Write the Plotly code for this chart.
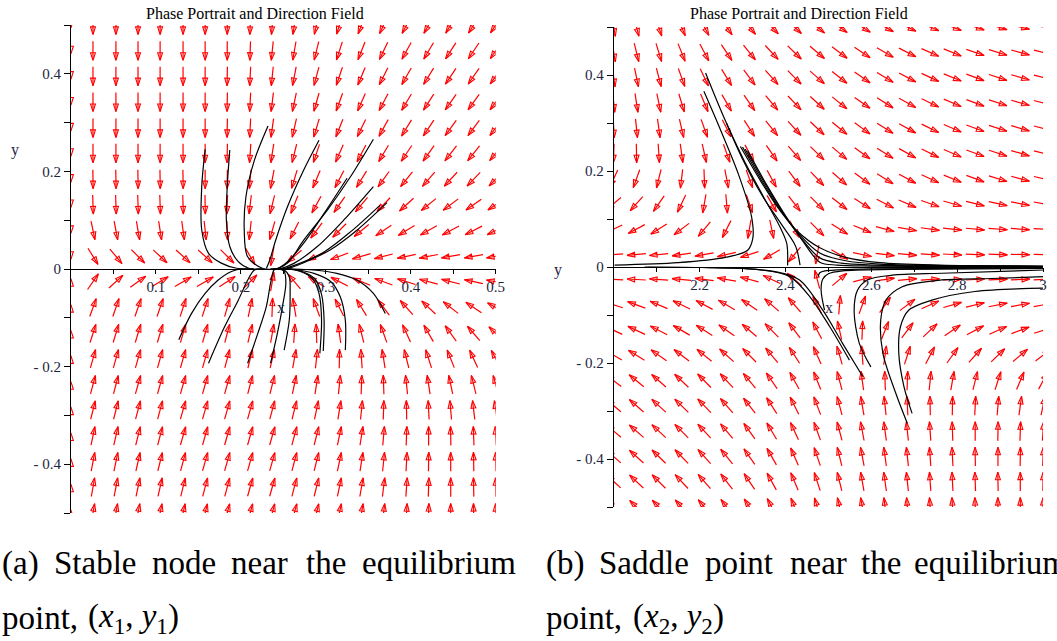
import math
import plotly.graph_objects as go

# ------------------------------------------------------------------
# DATA
# ------------------------------------------------------------------
# Panel (a): direction-field sample grid and arrow directions (degrees, on screen)
a_grid_x = [0.0, 0.026, 0.053, 0.079, 0.105, 0.132, 0.158, 0.184, 0.211, 0.237,
            0.263, 0.289, 0.316, 0.342, 0.368, 0.395, 0.421, 0.447, 0.474, 0.5]
a_grid_y = [0.5, 0.447, 0.395, 0.342, 0.289, 0.237, 0.184, 0.132, 0.079, 0.026,
            -0.026, -0.079, -0.132, -0.184, -0.237, -0.289, -0.342, -0.395, -0.447, -0.5]
a_zero_field_x = [0.0]   # field vanishes on x = 0
a_angles = [
    [-90,-90,-90,-90,-90,-90,-90,-90,-92,-95,-99,-103,-107,-111,-115,-118,-120,-122,-123,-124],
    [-90,-90,-90,-90,-90,-90,-90,-90,-92,-96,-100,-104,-108,-112,-116,-119,-121,-123,-124,-125],
    [-90,-90,-90,-90,-90,-90,-90,-91,-93,-96,-101,-105,-109,-113,-117,-120,-122,-124,-125,-126],
    [-90,-90,-90,-90,-90,-90,-90,-91,-93,-97,-102,-106,-110,-114,-118,-121,-123,-125,-126,-127],
    [-90,-90,-90,-90,-90,-90,-90,-91,-93,-98,-103,-107,-112,-116,-119,-122,-124,-126,-127,-128],
    [-90,-90,-90,-90,-90,-90,-90,-91,-94,-99,-104,-109,-114,-118,-121,-124,-126,-128,-129,-130],
    [-90,-89,-89,-89,-89,-89,-90,-91,-95,-101,-107,-113,-118,-122,-126,-129,-131,-133,-134,-135],
    [-90,-88,-88,-88,-88,-88,-89,-92,-97,-104,-112,-119,-125,-130,-134,-138,-141,-143,-145,-146],
    [-90,-78,-79,-80,-81,-82,-84,-88,-96,-106,-117,-127,-135,-141,-146,-149,-151,-152,-153,-154],
    [-90,-58,-50,-45,-43,-42,-42,-45,-60,-100,-140,-155,-160,-164,-166,-168,-169,-170,-170,-170],
    [90,55,42,35,31,30,30,33,45,80,130,148,153,158,160,163,165,166,168,170],
    [90,70,71,71,71,72,72,74,78,88,100,110,117,122,127,132,137,142,146,150],
    [90,72,73,73,73,74,74,75,76,80,86,92,98,104,110,115,120,126,131,136],
    [90,74,74,74,74,74,74,75,76,77,80,84,89,94,99,104,108,112,115,118],
    [90,75,75,74,74,74,74,74,75,76,78,81,84,88,92,96,99,102,104,106],
    [90,76,76,75,75,74,74,74,74,75,76,78,81,84,88,91,93,95,97,98],
    [90,78,77,76,75,74,74,74,74,74,75,76,78,81,85,88,90,91,92,93],
    [90,79,78,77,76,75,74,74,74,74,75,76,78,81,84,87,89,90,91,91],
    [90,80,79,78,77,76,75,75,74,74,75,76,78,80,83,86,88,90,91,91],
    [90,80,80,79,78,77,76,75,75,75,75,76,78,80,83,86,88,90,91,91],
]

# Panel (a): solution curves
a_t1_x = [0.158, 0.154, 0.154, 0.162, 0.177, 0.195, 0.215]
a_t1_y = [0.245, 0.169, 0.080, 0.032, 0.012, 0.0015, 0.0]
a_t2_x = [0.187, 0.184, 0.183, 0.187, 0.197, 0.210, 0.225]
a_t2_y = [0.244, 0.169, 0.100, 0.046, 0.015, 0.001, 0.0]
a_t3_x = [0.232, 0.216, 0.206, 0.204, 0.208, 0.226, 0.240]
a_t3_y = [0.293, 0.223, 0.148, 0.080, 0.025, 0.001, 0.0]
a_t4_x = [0.292, 0.274, 0.255, 0.241, 0.234, 0.230]
a_t4_y = [0.264, 0.203, 0.128, 0.059, 0.018, 0.001]
a_t5_x = [0.325, 0.298, 0.274, 0.255, 0.243, 0.235]
a_t5_y = [0.186, 0.114, 0.053, 0.015, 0.001, 0.0]
a_t6_x = [0.356, 0.329, 0.302, 0.274, 0.255, 0.243, 0.235]
a_t6_y = [0.266, 0.189, 0.121, 0.059, 0.012, 0.001, 0.0]
a_t7_x = [0.356, 0.321, 0.290, 0.263, 0.247, 0.238]
a_t7_y = [0.169, 0.100, 0.046, 0.012, 0.001, 0.0]
a_t8_x = [0.364, 0.329, 0.298, 0.267, 0.251, 0.240]
a_t8_y = [0.131, 0.076, 0.035, 0.010, 0.001, 0.0]
a_t9_x = [0.372, 0.337, 0.305, 0.274, 0.255, 0.242]
a_t9_y = [0.136, 0.080, 0.039, 0.013, 0.001, 0.0]
a_b1_x = [0.127, 0.142, 0.158, 0.173, 0.189, 0.200, 0.215]
a_b1_y = [-0.145, -0.091, -0.050, -0.023, -0.005, 0.0, 0.0]
a_b2_x = [0.162, 0.181, 0.197, 0.208, 0.216, 0.225]
a_b2_y = [-0.193, -0.118, -0.064, -0.023, -0.002, 0.0]
a_b3_x = [0.208, 0.220, 0.230, 0.235, 0.239, 0.242]
a_b3_y = [-0.193, -0.132, -0.077, -0.029, -0.002, 0.0]
a_b4_x = [0.235, 0.243, 0.249, 0.253, 0.251, 0.245]
a_b4_y = [-0.193, -0.132, -0.077, -0.029, -0.005, 0.0]
a_b5_x = [0.251, 0.257, 0.258, 0.257, 0.251, 0.243]
a_b5_y = [-0.166, -0.105, -0.050, -0.016, -0.002, 0.0]
a_b6_x = [0.293, 0.295, 0.292, 0.284, 0.270, 0.255, 0.245]
a_b6_y = [-0.173, -0.105, -0.050, -0.019, -0.005, 0.0, 0.0]
a_b7_x = [0.297, 0.298, 0.295, 0.287, 0.272, 0.256]
a_b7_y = [-0.168, -0.105, -0.052, -0.020, -0.005, 0.0]
a_b8_x = [0.323, 0.323, 0.317, 0.306, 0.286, 0.263, 0.248]
a_b8_y = [-0.166, -0.105, -0.057, -0.026, -0.009, -0.001, 0.0]
a_b9_x = [0.370, 0.356, 0.337, 0.313, 0.286, 0.263, 0.248]
a_b9_y = [-0.091, -0.050, -0.023, -0.009, -0.002, 0.0, 0.0]

# Panel (b): direction-field sample grid and arrow directions (degrees, on screen)
b_grid_x = [2.0, 2.053, 2.105, 2.158, 2.211, 2.263, 2.316, 2.368, 2.421, 2.474,
            2.526, 2.579, 2.632, 2.684, 2.737, 2.789, 2.842, 2.895, 2.947, 3.0]
b_grid_y = a_grid_y
b_zero_field_x = []
b_angles = [
    [-80,-75,-72,-67,-61,-55,-50,-46,-43,-39,-36,-33,-29,-26,-23,-21,-18,-16,-14,-13],
    [-80,-76,-73,-68,-62,-56,-51,-47,-44,-40,-37,-34,-30,-27,-24,-22,-19,-17,-15,-14],
    [-82,-78,-75,-70,-64,-58,-53,-48,-45,-41,-38,-35,-31,-28,-25,-22,-20,-18,-16,-14],
    [-84,-81,-78,-73,-67,-60,-55,-50,-46,-42,-39,-35,-32,-29,-26,-23,-20,-18,-16,-14],
    [-87,-84,-82,-77,-70,-63,-57,-51,-47,-43,-39,-36,-32,-29,-26,-23,-20,-18,-16,-14],
    [-92,-89,-86,-82,-77,-70,-62,-55,-49,-44,-40,-36,-32,-29,-26,-23,-20,-18,-16,-14],
    [-115,-110,-104,-97,-88,-79,-70,-61,-53,-46,-41,-36,-32,-28,-25,-22,-20,-17,-15,-13],
    [-140,-132,-125,-116,-100,-85,-71,-60,-52,-45,-38,-32,-27,-23,-19,-16,-14,-12,-11,-10],
    [-155,-152,-148,-143,-130,-117,-100,-78,-60,-45,-32,-22,-15,-10,-8,-6,-5,-4,-4,-3],
    [-176,-175,-174,-172,-170,-167,-162,-150,-130,-100,-30,-12,-7,-5,-4,-3,-2,-2,-1,-1],
    [178,177,176,175,173,170,165,155,140,105,40,15,8,5,4,3,3,2,2,2],
    [163,160,157,154,152,150,146,139,131,117,85,70,55,37,24,16,13,11,10,10],
    [155,155,153,150,148,145,140,135,127,118,103,88,68,53,43,34,28,24,20,18],
    [150,148,145,143,141,138,135,130,123,114,106,94,82,72,62,54,48,44,40,37],
    [143,141,139,137,135,133,130,125,119,112,105,98,92,88,84,80,76,72,67,62],
    [140,139,138,136,134,131,128,123,117,111,105,100,96,93,91,89,87,85,82,78],
    [140,139,137,135,133,130,126,121,115,110,105,101,98,96,94,92,90,89,88,86],
    [139,138,136,134,132,129,125,120,114,109,104,101,98,96,94,93,91,90,89,88],
    [138,137,135,133,131,128,124,119,113,108,104,100,98,96,94,93,92,91,90,89],
    [137,136,134,132,130,127,123,118,112,107,103,100,97,95,94,93,92,91,90,89],
]

# Panel (b): solution curves
b_u1_x = [2.210, 2.249, 2.291, 2.321, 2.324, 2.312, 2.260, 2.150, 2.002]
b_u1_y = [0.366, 0.285, 0.192, 0.105, 0.060, 0.035, 0.020, 0.009, 0.004]
b_u2_x = [2.214, 2.256, 2.303, 2.349, 2.387, 2.403, 2.405]
b_u2_y = [0.404, 0.313, 0.223, 0.146, 0.084, 0.049, 0.003]
b_u3_x = [2.263, 2.300, 2.345, 2.390, 2.420, 2.427, 2.434]
b_u3_y = [0.299, 0.225, 0.150, 0.090, 0.050, 0.035, 0.004]
b_u4_x = [2.295, 2.341, 2.379, 2.426, 2.480, 2.540, 2.620, 2.760, 3.0]
b_u4_y = [0.251, 0.181, 0.128, 0.076, 0.040, 0.020, 0.009, 0.004, 0.002]
b_u5_x = [2.300, 2.346, 2.384, 2.430, 2.480, 2.540, 2.620, 2.760, 3.0]
b_u5_y = [0.250, 0.178, 0.124, 0.070, 0.029, 0.013, 0.006, 0.003, 0.0015]
b_u6_x = [2.306, 2.352, 2.390, 2.434, 2.480, 2.530, 2.610, 2.760, 3.0]
b_u6_y = [0.246, 0.174, 0.119, 0.063, 0.019, 0.008, 0.004, 0.002, 0.001]
b_u7_x = [2.312, 2.357, 2.395, 2.438, 2.480, 2.520, 2.600, 2.760, 3.0]
b_u7_y = [0.242, 0.170, 0.114, 0.057, 0.010, 0.004, 0.002, 0.001, 0.0008]
b_l1_x = [2.549, 2.503, 2.457, 2.410, 2.341, 2.203, 2.072]
b_l1_y = [-0.194, -0.124, -0.062, -0.020, -0.006, -0.001, 0.0]
b_l2_x = [2.580, 2.533, 2.487, 2.433, 2.379, 2.302, 2.210, 2.080]
b_l2_y = [-0.228, -0.159, -0.090, -0.027, -0.010, -0.003, -0.001, -0.0005]
b_r1_x = [2.599, 2.572, 2.560, 2.568, 2.591, 2.649, 2.764, 3.01]
b_r1_y = [-0.208, -0.159, -0.090, -0.048, -0.027, -0.017, -0.013, -0.006]
b_r2_x = [2.684, 2.657, 2.627, 2.622, 2.634, 2.672, 2.764, 2.880, 3.01]
b_r2_y = [-0.326, -0.263, -0.180, -0.110, -0.069, -0.041, -0.027, -0.024, -0.020]
b_r3_x = [2.695, 2.676, 2.664, 2.668, 2.687, 2.741, 2.841, 3.01]
b_r3_y = [-0.305, -0.249, -0.180, -0.124, -0.090, -0.069, -0.051, -0.044]
b_r4_x = [2.491, 2.483, 2.487, 2.500, 2.533, 2.650, 2.850, 3.0]
b_r4_y = [-0.090, -0.048, -0.025, -0.014, -0.008, -0.005, -0.004, -0.003]
b_r5_x = [2.476, 2.480, 2.492, 2.522, 2.600, 2.800, 3.0]
b_r5_y = [-0.020, -0.012, -0.008, -0.006, -0.004, -0.003, -0.002]

# Axes ranges and ticks
a_x_range = [0.0, 0.5]
a_y_range = [-0.5, 0.5]
b_x_range = [2.0, 3.0]
b_y_range = [-0.5, 0.5]
a_x_tickvals = [0.1, 0.2, 0.3, 0.4, 0.5]
a_x_ticktext = ["0.1", "0.2", "0.3", "0.4", "0.5"]
a_x_minor = [0.05, 0.15, 0.25, 0.35, 0.45]
b_x_tickvals = [2.2, 2.4, 2.6, 2.8, 3.0]
b_x_ticktext = ["2.2", "2.4", "2.6", "2.8", "3"]
b_x_minor = [2.0, 2.1, 2.3, 2.5, 2.7, 2.9]
y_tickvals = [-0.4, -0.2, 0.0, 0.2, 0.4]
y_ticktext = ["- 0.4", "- 0.2", "0", "0.2", "0.4"]
y_minor = [-0.5, -0.3, -0.1, 0.1, 0.3, 0.5]

title_text = "Phase Portrait and Direction Field"
cap_a_line1 = ["(a)", "Stable", "node", "near", "the", "equilibrium"]
cap_b_line1 = ["(b)", "Saddle", "point", "near", "the", "equilibrium"]
cap_a_line2 = ["point,", "(<i>x</i><sub>1</sub>, <i>y</i><sub>1</sub>)"]
cap_b_line2 = ["point,", "(<i>x</i><sub>2</sub>, <i>y</i><sub>2</sub>)"]

# ------------------------------------------------------------------
# LAYOUT GEOMETRY (pixels)
# ------------------------------------------------------------------
W, H = 1057, 641
A_BOX = dict(left=71.5, right=500.0, top=25.0, bottom=513.0)
B_BOX = dict(left=619.0, right=1052.0, top=27.0, bottom=507.0)
ARROW_HALF = 9.5
HEAD_ONLY = 3.0
RED = "rgb(255,0,0)"
SERIF = "Liberation Serif"
TICK_COLOR = "#1c2540"
CAP_SIZE = 33


def dom_x(box):
    return [box["left"] / W, box["right"] / W]


def dom_y(box):
    return [(H - box["bottom"]) / H, (H - box["top"]) / H]


def field_traces(xs, ys, angles, zero_x, box, xr, yr, xa, ya):
    sx = (box["right"] - box["left"]) / (xr[1] - xr[0])
    sy = (box["bottom"] - box["top"]) / (yr[1] - yr[0])
    lx, ly, hx, hy, ha = [], [], [], [], []
    for j, yv in enumerate(ys):
        for k, xv in enumerate(xs):
            th = math.radians(angles[j][k])
            c, s = math.cos(th), math.sin(th)
            if xv in zero_x:
                tx, ty = xv + HEAD_ONLY * c / sx, yv + HEAD_ONLY * s / sy
            else:
                x0, y0 = xv - ARROW_HALF * c / sx, yv - ARROW_HALF * s / sy
                tx, ty = xv + ARROW_HALF * c / sx, yv + ARROW_HALF * s / sy
                lx += [x0, tx, None]
                ly += [y0, ty, None]
            hx.append(tx)
            hy.append(ty)
            ha.append(90 - angles[j][k])
    shafts = go.Scatter(x=lx, y=ly, mode="lines", xaxis=xa, yaxis=ya,
                        line=dict(color=RED, width=1.2), hoverinfo="skip",
                        showlegend=False)
    heads = go.Scatter(x=hx, y=hy, mode="markers", xaxis=xa, yaxis=ya,
                       marker=dict(symbol="arrow-open", size=8, angle=ha,
                                   color=RED, line=dict(color=RED, width=1.1)),
                       hoverinfo="skip", showlegend=False)
    return [shafts, heads]


def curve(xs, ys, xa, ya, w=1.2):
    return go.Scatter(x=xs, y=ys, mode="lines", xaxis=xa, yaxis=ya,
                      line=dict(color="black", width=w, shape="spline", smoothing=0.9),
                      hoverinfo="skip", showlegend=False)


fig = go.Figure()
for t in field_traces(a_grid_x, a_grid_y, a_angles, a_zero_field_x, A_BOX,
                      a_x_range, a_y_range, "x", "y"):
    fig.add_trace(t)
for t in field_traces(b_grid_x, b_grid_y, b_angles, b_zero_field_x, B_BOX,
                      b_x_range, b_y_range, "x2", "y2"):
    fig.add_trace(t)

a_curves = [(a_t1_x, a_t1_y), (a_t2_x, a_t2_y), (a_t3_x, a_t3_y), (a_t4_x, a_t4_y),
            (a_t5_x, a_t5_y), (a_t6_x, a_t6_y), (a_t7_x, a_t7_y), (a_t8_x, a_t8_y),
            (a_t9_x, a_t9_y), (a_b1_x, a_b1_y), (a_b2_x, a_b2_y), (a_b3_x, a_b3_y),
            (a_b4_x, a_b4_y), (a_b5_x, a_b5_y), (a_b6_x, a_b6_y), (a_b7_x, a_b7_y),
            (a_b8_x, a_b8_y), (a_b9_x, a_b9_y)]
for cx, cy in a_curves:
    fig.add_trace(curve(cx, cy, "x", "y"))

b_curves = [(b_u1_x, b_u1_y), (b_u2_x, b_u2_y), (b_u3_x, b_u3_y), (b_u4_x, b_u4_y),
            (b_u5_x, b_u5_y), (b_u6_x, b_u6_y), (b_u7_x, b_u7_y), (b_l1_x, b_l1_y),
            (b_l2_x, b_l2_y), (b_r1_x, b_r1_y), (b_r2_x, b_r2_y), (b_r3_x, b_r3_y),
            (b_r4_x, b_r4_y), (b_r5_x, b_r5_y)]
for cx, cy in b_curves:
    fig.add_trace(curve(cx, cy, "x2", "y2"))


def x_axis(box, xr, yr, tv, tt, minor_vals):
    dy = dom_y(box)
    pos = dy[0] + (0 - yr[0]) / (yr[1] - yr[0]) * (dy[1] - dy[0])
    return dict(domain=dom_x(box), range=xr, anchor="free", position=pos,
                showline=True, linecolor="black", linewidth=1, mirror=False,
                ticks="outside", ticklen=4, tickcolor="black", tickwidth=1,
                tickmode="array", tickvals=tv, ticktext=tt,
                minor=dict(tickmode="array", tickvals=minor_vals, ticks="outside",
                           ticklen=4, tickcolor="black", tickwidth=1),
                showgrid=False, zeroline=False,
                tickfont=dict(family=SERIF, size=15, color=TICK_COLOR))


def y_axis(box, yr, anchor):
    return dict(domain=dom_y(box), range=yr, anchor=anchor,
                showline=True, linecolor="black", linewidth=1,
                ticks="outside", ticklen=6, tickcolor="black", tickwidth=1,
                tickmode="array", tickvals=y_tickvals, ticktext=y_ticktext,
                minor=dict(tickmode="array", tickvals=y_minor, ticks="outside",
                           ticklen=6, tickcolor="black", tickwidth=1),
                showgrid=False, zeroline=False,
                tickfont=dict(family=SERIF, size=15, color=TICK_COLOR))


annotations = []


def label(px, py, text, size, color="black", xanchor="center"):
    annotations.append(dict(x=px / W, y=(H - py) / H, xref="paper", yref="paper",
                            text=text, showarrow=False, xanchor=xanchor,
                            yanchor="middle",
                            font=dict(family=SERIF, size=size, color=color)))


label(257, 14, title_text, 16)
label(806, 14, title_text, 16)
label(15, 150, "y", 16, TICK_COLOR)
label(283, 307, "x", 16, TICK_COLOR)
label(563, 270, "y", 16, TICK_COLOR)
label(836, 307, "x", 16, TICK_COLOR)

# caption line 1 (justified words)
label(0, 563, cap_a_line1[0], CAP_SIZE, xanchor="left")
for wd, cx in zip(cap_a_line1[1:5], [96, 186, 262, 329]):
    label(cx, 563, wd, CAP_SIZE)
label(522, 563, cap_a_line1[5], CAP_SIZE, xanchor="right")
label(549, 563, cap_b_line1[0], CAP_SIZE, xanchor="left")
for wd, cx in zip(cap_b_line1[1:5], [650, 745, 826, 889]):
    label(cx, 563, wd, CAP_SIZE)
label(920, 563, cap_b_line1[5], CAP_SIZE, xanchor="left")
# caption line 2
label(0, 618, cap_a_line2[0], CAP_SIZE, xanchor="left")
label(87, 618, cap_a_line2[1], CAP_SIZE, xanchor="left")
label(549, 618, cap_b_line2[0], CAP_SIZE, xanchor="left")
label(636, 618, cap_b_line2[1], CAP_SIZE, xanchor="left")

fig.update_layout(
    width=W, height=H,
    margin=dict(l=0, r=0, t=0, b=0),
    paper_bgcolor="white", plot_bgcolor="white",
    xaxis=x_axis(A_BOX, a_x_range, a_y_range, a_x_tickvals, a_x_ticktext, a_x_minor),
    yaxis=y_axis(A_BOX, a_y_range, "x"),
    xaxis2=x_axis(B_BOX, b_x_range, b_y_range, b_x_tickvals, b_x_ticktext, b_x_minor),
    yaxis2=y_axis(B_BOX, b_y_range, "x2"),
    annotations=annotations,
    showlegend=False,
)

fig.write_html("out.html", config={"displayModeBar": False},
               post_script="document.body.style.margin='0px';")
